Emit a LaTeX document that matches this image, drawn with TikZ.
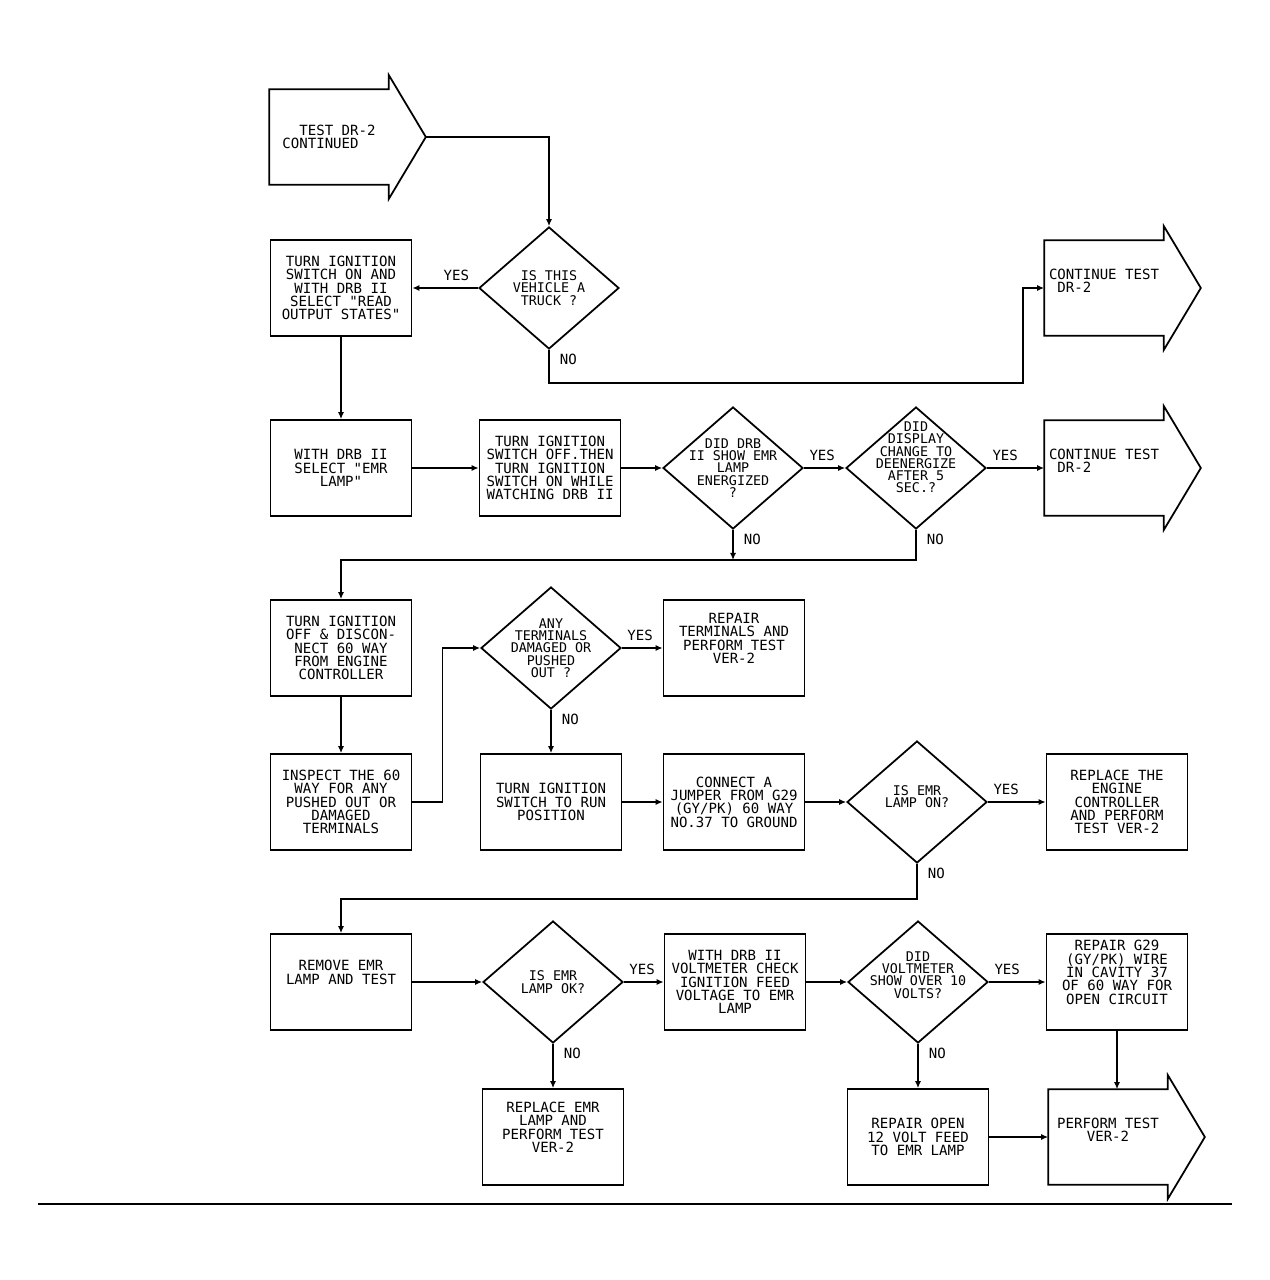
\documentclass[tikz,border=0pt]{standalone}
\usepackage{fontspec}
\setmonofont{DejaVu Sans Mono}
\usetikzlibrary{shapes.geometric,arrows.meta,calc}

\tikzset{
  line/.style={line width=0.9pt},
  flow/.style={line,-{Latex[length=4pt,width=3.5pt]}},
  box/.style={rectangle,draw,line width=1pt,minimum width=2.82cm,minimum height=1.92cm,
    align=center,inner sep=1pt,font=\ttfamily\fontsize{8}{7.6}\selectfont},
  boxup/.style={box,text depth=11pt},
  decision/.style={diamond,draw,line width=1pt,minimum width=2.8cm,minimum height=2.44cm,inner sep=0pt},
  dtext/.style={anchor=center,align=center,inner sep=0pt,font=\ttfamily\fontsize{7.6}{7}\selectfont},
  outbody/.style={rectangle,minimum width=2.38cm,minimum height=1.9cm,align=left,inner sep=1pt,
    font=\ttfamily\fontsize{8}{7.6}\selectfont},
  yeslbl/.style={anchor=south west,inner sep=1pt,xshift=2pt,yshift=3pt,font=\ttfamily\fontsize{8}{8}\selectfont},
  yeslft/.style={anchor=south east,inner sep=1pt,xshift=-4pt,yshift=3pt,font=\ttfamily\fontsize{8}{8}\selectfont},
  nolbl/.style={anchor=north west,inner sep=1pt,xshift=5pt,yshift=-1pt,font=\ttfamily\fontsize{8}{8}\selectfont},
}

% outline of a big exit arrow round a body node
\newcommand{\arrowout}[1]{%
  \draw[line width=1pt] (#1.north west) -- (#1.north east) -- ++(0,-14)
    -- ($(#1.east)+(37,0)$) coordinate (#1tip)
    -- ($(#1.south east)+(0,14)$) -- (#1.south east) -- (#1.south west) -- cycle;
}

\begin{document}
\begin{tikzpicture}[x=0.02cm,y=-0.02cm]
  \useasboundingbox (0,0) rectangle (1269,1280);

  % entry and exit arrows
  \node[outbody] (start) at (329,137) {\phantom{CO}TEST DR-2\\CONTINUED};
  \arrowout{start}
  \node[outbody,text depth=8pt] (exit1) at (1104,288) {CONTINUE TEST\\\phantom{C}DR-2};
  \arrowout{exit1}
  \node[outbody,text depth=8pt] (exit2) at (1104,468) {CONTINUE TEST\\\phantom{C}DR-2};
  \arrowout{exit2}
  \node[outbody,align=center,text depth=8pt] (perform) at (1108,1137) {PERFORM TEST\\VER-2};
  \arrowout{perform}

  % row 1
  \node[decision,label={[dtext]center:IS THIS\\VEHICLE A\\TRUCK ?},
    label={[yeslft]west:YES},label={[nolbl]south:NO}] (truck) at (549,288) {};
  \node[box] (ign1) at (341,288) {TURN IGNITION\\SWITCH ON AND\\WITH DRB II\\SELECT "READ\\OUTPUT STATES"};

  % row 2
  \node[box] (selemr) at (341,468) {WITH DRB II\\SELECT "EMR\\LAMP"};
  \node[box] (ign2) at (550,468) {TURN IGNITION\\SWITCH OFF.THEN\\TURN IGNITION\\SWITCH ON WHILE\\WATCHING DRB II};
  \node[decision,label={[dtext]center:DID DRB\\II SHOW EMR\\LAMP\\ENERGIZED\\?},
    label={[yeslbl]east:YES},label={[nolbl]south:NO}] (drbshow) at (733,468) {};
  \node[decision,label={[dtext,yshift=6pt]center:DID\\DISPLAY\\CHANGE TO\\DEENERGIZE\\AFTER 5\\SEC.?},
    label={[yeslbl]east:YES},label={[nolbl]south:NO}] (display) at (916,468) {};

  % row 3
  \node[box] (discon) at (341,648) {TURN IGNITION\\OFF \& DISCON-\\NECT 60 WAY\\FROM ENGINE\\CONTROLLER};
  \node[decision,label={[dtext]center:ANY\\TERMINALS\\DAMAGED OR\\PUSHED\\OUT ?},
    label={[yeslbl]east:YES},label={[nolbl]south:NO}] (damaged) at (551,648) {};
  \node[boxup] (repterm) at (734,648) {REPAIR\\TERMINALS AND\\PERFORM TEST\\VER-2};

  % row 4
  \node[box] (inspect) at (341,802) {INSPECT THE 60\\WAY FOR ANY\\PUSHED OUT OR\\DAMAGED\\TERMINALS};
  \node[box] (runpos) at (551,802) {TURN IGNITION\\SWITCH TO RUN\\POSITION};
  \node[box] (jumper) at (734,802) {CONNECT A\\JUMPER FROM G29\\(GY/PK) 60 WAY\\NO.37 TO GROUND};
  \node[decision,label={[dtext,yshift=3pt]center:IS EMR\\LAMP ON?},
    label={[yeslbl]east:YES},label={[nolbl]south:NO}] (lampon) at (917,802) {};
  \node[box] (replctl) at (1117,802) {REPLACE THE\\ENGINE\\CONTROLLER\\AND PERFORM\\TEST VER-2};

  % row 5
  \node[boxup] (remove) at (341,982) {REMOVE EMR\\LAMP AND TEST};
  \node[decision,label={[dtext]center:IS EMR\\LAMP OK?},
    label={[yeslbl]east:YES},label={[nolbl]south:NO}] (lampok) at (553,982) {};
  \node[box] (voltchk) at (735,982) {WITH DRB II\\VOLTMETER CHECK\\IGNITION FEED\\VOLTAGE TO EMR\\LAMP};
  \node[decision,label={[dtext,yshift=4pt]center:DID\\VOLTMETER\\SHOW OVER 10\\VOLTS?},
    label={[yeslbl]east:YES},label={[nolbl]south:NO}] (volts) at (918,982) {};
  \node[boxup] (repg29) at (1117,982) {REPAIR G29\\(GY/PK) WIRE\\IN CAVITY 37\\OF 60 WAY FOR\\OPEN CIRCUIT};

  % row 6
  \node[boxup] (replamp) at (553,1137) {REPLACE EMR\\LAMP AND\\PERFORM TEST\\VER-2};
  \node[box] (repfeed) at (918,1137) {REPAIR OPEN\\12 VOLT FEED\\TO EMR LAMP};

  % connectors
  \coordinate (bend1) at (1023,383);
  \coordinate (join2) at (733,560);
  \draw[flow] (starttip) -| (truck.north);
  \draw[flow] (truck.west) -- (ign1.east);
  \draw[flow] (truck.south) |- (bend1) |- (exit1.west);
  \draw[flow] (ign1.south) -- (selemr.north);
  \draw[flow] (selemr.east) -- (ign2.west);
  \draw[flow] (ign2.east) -- (drbshow.west);
  \draw[flow] (drbshow.east) -- (display.west);
  \draw[flow] (display.east) -- (exit2.west);
  \draw[flow] (drbshow.south) -- (join2);
  \draw[flow] (display.south) |- (join2) -| (discon.north);
  \draw[flow] (discon.south) -- (inspect.north);
  \draw[flow] (inspect.east) -- ++(30,0) |- (damaged.west);
  \draw[flow] (damaged.east) -- (repterm.west);
  \draw[flow] (damaged.south) -- (runpos.north);
  \draw[flow] (runpos.east) -- (jumper.west);
  \draw[flow] (jumper.east) -- (lampon.west);
  \draw[flow] (lampon.east) -- (replctl.west);
  \draw[flow] (lampon.south) -- ++(0,35) -| (remove.north);
  \draw[flow] (remove.east) -- (lampok.west);
  \draw[flow] (lampok.east) -- (voltchk.west);
  \draw[flow] (voltchk.east) -- (volts.west);
  \draw[flow] (volts.east) -- (repg29.west);
  \draw[flow] (lampok.south) -- (replamp.north);
  \draw[flow] (volts.south) -- (repfeed.north);
  \draw[flow] (repg29.south) -- (repg29.south |- perform.north);
  \draw[flow] (repfeed.east) -- (perform.west);

  % page rule
  \draw[line width=0.6pt] (38,1204) -- (1232,1204);
\end{tikzpicture}
\end{document}
